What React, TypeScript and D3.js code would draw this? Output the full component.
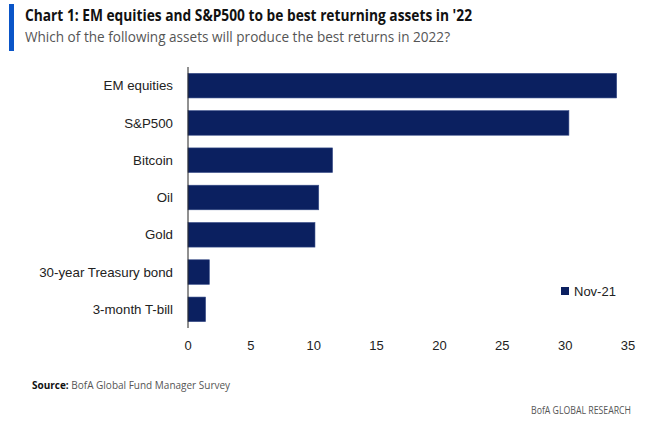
import React from "react";
import * as d3 from "d3";

const categories = ["EM equities", "S&P500", "Bitcoin", "Oil", "Gold", "30-year Treasury bond", "3-month T-bill"];
const values = [34.1, 30.3, 11.5, 10.4, 10.1, 1.7, 1.4];
const xTicks = [0, 5, 10, 15, 20, 25, 30, 35];
const seriesName = "Nov-21";

const W = 650;
const H = 432;

export default function App() {
  const x = d3.scaleLinear().domain([0, 35]).range([188, 628]);
  const y = d3.scaleBand<string>().domain(categories).range([67, 328]).paddingInner(0.34).paddingOuter(0.17);
  const barColor = "#0B2060";
  const axisFont = "'Liberation Sans', Arial, sans-serif";
  const titleFont = "'Open Sans', 'Noto Sans', sans-serif";

  return (
    <svg width={W} height={H} style={{ position: "absolute", left: 0, top: 0, background: "#fff" }}>
      <rect x={9} y={4} width={5} height={47} fill="#0A55C8" />
      <text x={25} y={21} fontFamily={titleFont} fontWeight={700} fontSize={15.5} fill="#111" textLength={447} lengthAdjust="spacingAndGlyphs">
        Chart 1: EM equities and S&amp;P500 to be best returning assets in '22
      </text>
      <text x={25} y={42} fontFamily={titleFont} fontSize={15} fill="#555" textLength={425} lengthAdjust="spacingAndGlyphs">
        Which of the following assets will produce the best returns in 2022?
      </text>

      {categories.map((c, i) => (
        <g key={c}>
          <rect x={x(0)} y={y(c)} width={x(values[i]) - x(0)} height={y.bandwidth()} fill={barColor} stroke="#3a4f8a" strokeWidth={0.6} />
          <text x={173} y={(y(c) as number) + y.bandwidth() / 2} dy="0.35em" textAnchor="end" fontFamily={axisFont} fontSize={13.3} fill="#222">
            {c}
          </text>
        </g>
      ))}

      <line x1={x(0)} x2={x(0)} y1={67} y2={328} stroke="#222" strokeWidth={1} />

      {xTicks.map((t) => (
        <text key={t} x={x(t)} y={345} dy="0.35em" textAnchor="middle" fontFamily={axisFont} fontSize={13} fill="#222">
          {t}
        </text>
      ))}

      <rect x={561} y={287} width={8} height={8} fill={barColor} />
      <text x={574} y={291} dy="0.35em" fontFamily={axisFont} fontSize={13} fill="#222">
        {seriesName}
      </text>

      <text x={32} y={389} fontFamily={titleFont} fontSize={10} fill="#555">
        <tspan fontWeight={700} fill="#111">Source:</tspan> BofA Global Fund Manager Survey
      </text>
      <text x={531} y={414} fontFamily={titleFont} fontSize={10} fill="#555" textLength={100} lengthAdjust="spacingAndGlyphs">
        BofA GLOBAL RESEARCH
      </text>
    </svg>
  );
}
